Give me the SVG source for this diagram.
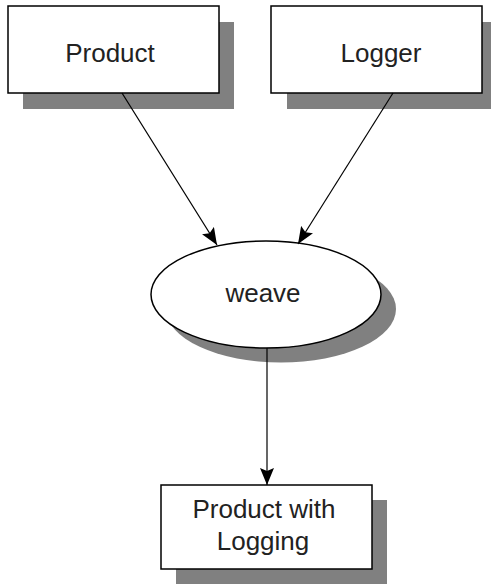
<svg xmlns="http://www.w3.org/2000/svg" width="491" height="584" viewBox="0 0 491 584">
<defs>
<style>
.shadow{fill:#808080;stroke:none}
.box{fill:#fff;stroke:#000;stroke-width:1.5}
.lbl{font-family:"Liberation Sans",Arial,sans-serif;font-size:26px;fill:#222;text-anchor:middle}
.conn{stroke:#000;stroke-width:1.2;fill:none;marker-end:url(#arr)}
</style>
<marker id="arr" viewBox="0 0 17 14" refX="17" refY="7" markerWidth="17" markerHeight="14" markerUnits="userSpaceOnUse" orient="auto">
<path d="M0,0 L17,7 L0,14 L3,7 Z" fill="#000"/>
</marker>
</defs>
<rect width="491" height="584" fill="#fff"/>
<g id="product">
<rect class="shadow" x="23" y="22" width="211" height="87"/>
<rect class="box" x="8" y="6" width="211" height="87"/>
<text class="lbl" x="110" y="62">Product</text>
</g>
<g id="logger">
<rect class="shadow" x="287" y="22" width="211" height="87"/>
<rect class="box" x="271" y="6" width="211" height="87"/>
<text class="lbl" x="381" y="62">Logger</text>
</g>
<g id="weave">
<ellipse class="shadow" cx="281" cy="309" rx="115" ry="53.5"/>
<ellipse class="box" cx="266" cy="294.5" rx="115" ry="53.5"/>
<text class="lbl" x="263" y="302">weave</text>
</g>
<g id="product-with-logging">
<rect class="shadow" x="176" y="500" width="211" height="84"/>
<rect class="box" x="161" y="485" width="211" height="84"/>
<text class="lbl" x="264" y="518">Product with</text>
<text class="lbl" x="263" y="550">Logging</text>
</g>
<g id="connectors">
<line class="conn" x1="122" y1="93" x2="217" y2="245"/>
<line class="conn" x1="393" y1="93" x2="298" y2="244"/>
<line class="conn" x1="267" y1="348" x2="267" y2="485"/>
</g>
</svg>
